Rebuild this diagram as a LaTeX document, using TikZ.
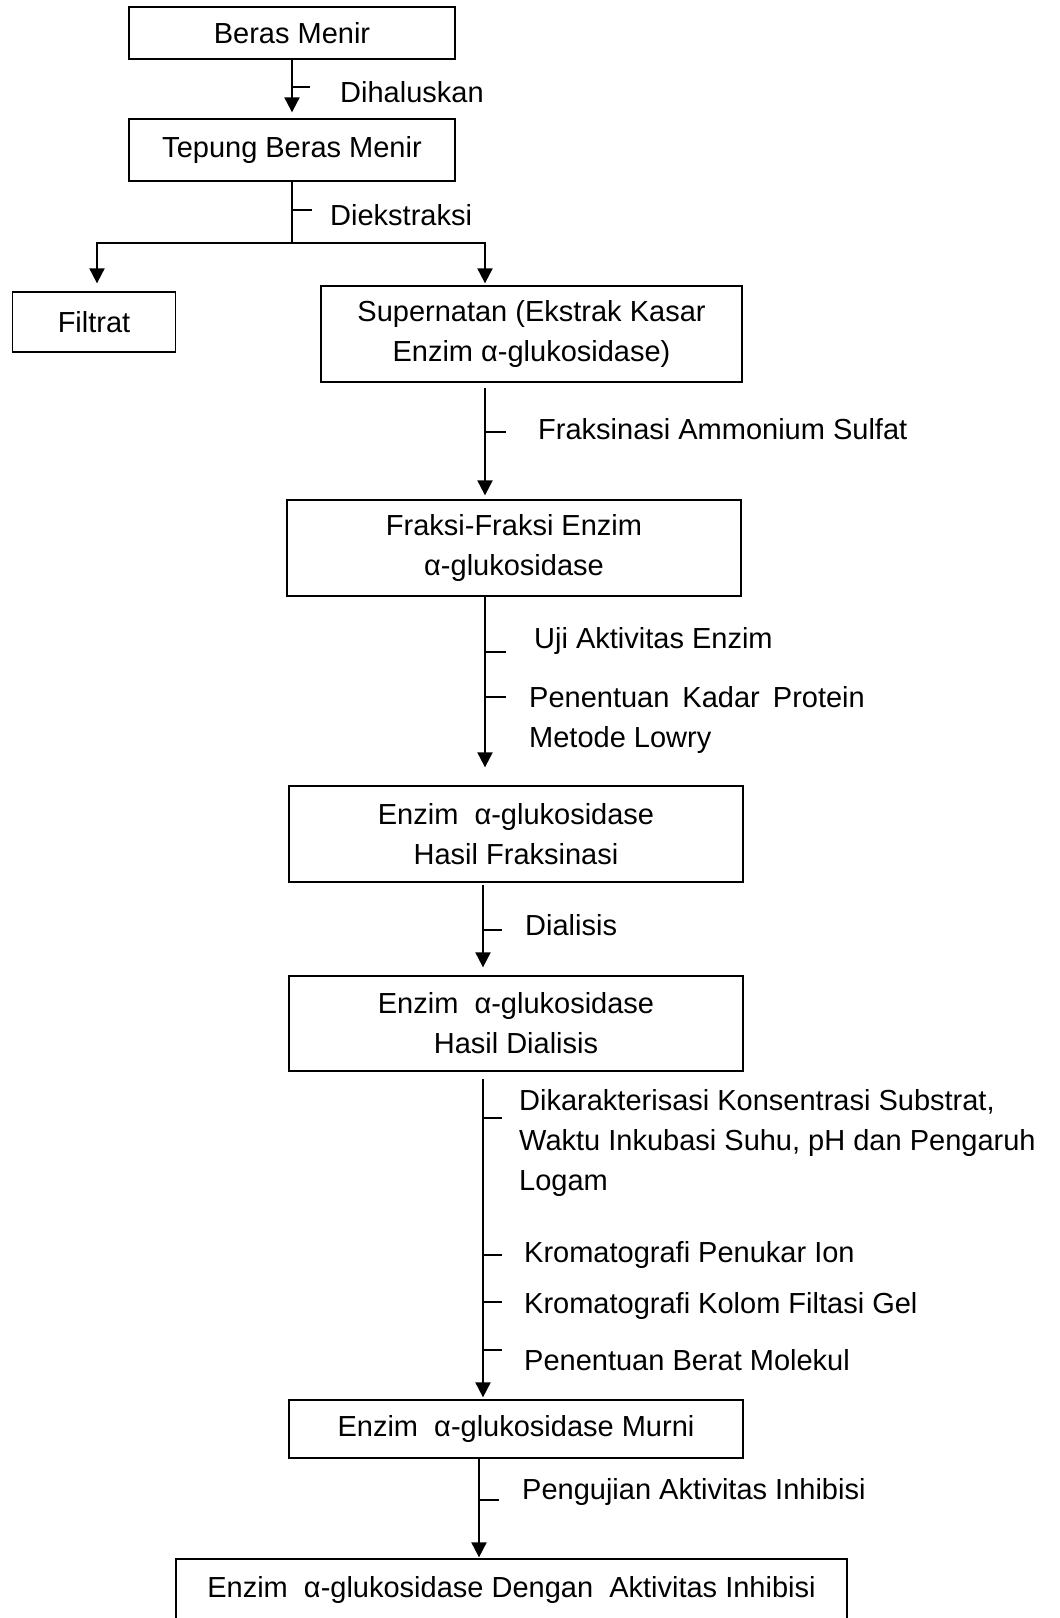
\documentclass[tikz,border=0pt]{standalone}
\usepackage{fontspec}
\setmainfont{Liberation Sans}
\usetikzlibrary{arrows.meta,positioning,calc}

\newcommand{\flowfont}{\fontsize{29}{40}\selectfont}

\begin{document}
\begin{tikzpicture}[x=1pt,y=-1pt,
    box/.style={draw, line width=1.3pt, inner sep=0pt, align=center, font=\flowfont},
    lbl/.style={anchor=west, inner sep=0pt, align=left, font=\flowfont},
    arr/.style={line width=2pt, -{Triangle[width=15pt,length=15pt]}},
    tickln/.style={line width=1.3pt}]
    \useasboundingbox (0,0) rectangle (1060,1618);
    \clip (0,0) rectangle (1060,1618);

    % Boxes
    \node[box, minimum width=326pt, minimum height=52pt] (beras) at (292,33) {Beras Menir};
    \node[box, minimum width=326pt, minimum height=62pt] (tepung) at (292,150) {Tepung Beras Menir};
    \node[box, minimum width=163pt, minimum height=60pt] (filtrat) at (94,322) {Filtrat};
    \node[box, minimum width=421pt, minimum height=96pt] (super) at (531.5,334) {Supernatan (Ekstrak Kasar\\Enzim α-glukosidase)};
    \node[box, minimum width=454pt, minimum height=96pt] (fraksi) at (514,548) {Fraksi-Fraksi Enzim\\α-glukosidase};
    \node[box, minimum width=454pt, minimum height=96pt] (hfrak) at (516,834) {Enzim\ \ α-glukosidase\\Hasil Fraksinasi};
    \node[box, minimum width=454pt, minimum height=95pt] (hdial) at (516,1023.5) {Enzim\ \ α-glukosidase\\Hasil Dialisis};
    \node[box, minimum width=454pt, minimum height=58pt] (murni) at (516,1429) {Enzim\ \ α-glukosidase Murni};
    \node[box, minimum width=671pt, minimum height=62pt] (inhib) at (511.5,1590) {Enzim\ \ α-glukosidase Dengan\ \ Aktivitas Inhibisi};

    % Columns of the arrows
    \coordinate (kf) at (97,0);
    \coordinate (ks) at (485,0);
    \coordinate (kd) at (483,0);
    \coordinate (km) at (479,0);
    \coordinate (j) at (292,243);

    % Connectors
    \draw[arr, shorten >=6pt] (beras.south) -- (tepung.north);
    \draw[tickln] (tepung.south) -- (j);
    \draw[line width=2pt, {Triangle[width=15pt,length=15pt]}-{Triangle[width=15pt,length=15pt]},
          shorten <=8pt, shorten >=2pt]
        (filtrat.north -| kf) -- (kf |- j) -- (ks |- j) -- (super.north -| ks);
    \draw[arr, shorten <=5pt, shorten >=4pt] (super.south -| ks) -- (fraksi.north -| ks);
    \draw[arr, shorten >=18pt] (fraksi.south -| ks) -- (hfrak.north -| ks);
    \draw[arr, shorten <=2pt, shorten >=8pt] (hfrak.south -| kd) -- (hdial.north -| kd);
    \draw[arr, shorten <=7pt, shorten >=2pt] (hdial.south -| kd) -- (murni.north -| kd);
    \draw[arr, shorten >=1pt] (murni.south -| km) -- (inhib.north -| km);

    % Ticks
    \draw[tickln] (292,87) -- ++(18,0);
    \draw[tickln] (292,210) -- ++(20,0);
    \draw[tickln] (485,432) -- ++(21,0);
    \draw[tickln] (485,652) -- ++(21,0);
    \draw[tickln] (485,697) -- ++(21,0);
    \draw[tickln] (483,930) -- ++(19,0);
    \draw[tickln] (482,1118) -- ++(20,0);
    \draw[tickln] (482,1255) -- ++(20,0);
    \draw[tickln] (482,1302) -- ++(20,0);
    \draw[tickln] (482,1350) -- ++(20,0);
    \draw[tickln] (479,1500) -- ++(20,0);

    % Step labels
    \node[lbl] (lhalus) at (340,92) {Dihaluskan};
    \node[lbl] (lekstr) at (330,215) {Diekstraksi};
    \node[lbl] (lamon) at (538,429) {Fraksinasi Ammonium Sulfat};
    \node[lbl] (luji) at (534,641) {Uji Aktivitas Enzim};
    \node[lbl] (lkadar) at (529,720) {Penentuan\hspace{0.45em}Kadar\hspace{0.45em}Protein\\Metode Lowry};
    \node[lbl] (ldial) at (525,925) {Dialisis};
    \node[lbl] (lkarak) at (519,1143) {Dikarakterisasi Konsentrasi Substrat,\\Waktu Inkubasi Suhu, pH dan Pengaruh\\Logam};
    \node[lbl] (lion) at (524,1255) {Kromatografi Penukar Ion};
    \node[lbl] (lgel) at (524,1306) {Kromatografi Kolom Filtasi Gel};
    \node[lbl] (lbm) at (524,1360) {Penentuan Berat Molekul};
    \node[lbl] (luji2) at (522,1492) {Pengujian Aktivitas Inhibisi};
\end{tikzpicture}
\end{document}
